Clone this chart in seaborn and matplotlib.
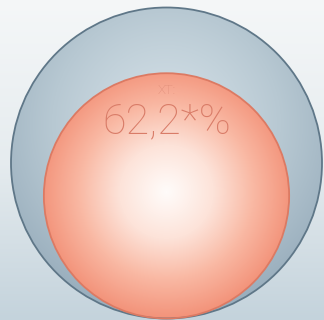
import numpy as np
import matplotlib
matplotlib.use("Agg")
import matplotlib.pyplot as plt
import seaborn as sns
from matplotlib.patches import Circle
from matplotlib.colors import LinearSegmentedColormap

# ---- data ----
groups = ["Total", "XT"]
shares = [100.0, 62.2]
group_labels = ["", "XT:"]
value_labels = ["", "62,2*%"]

sns.set_theme(style="white")
plt.rcParams["font.family"] = ["Roboto", "DejaVu Sans"]

W, H = 324, 320
fig = plt.figure(figsize=(W / 100, H / 100), dpi=100)
ax = fig.add_axes([0, 0, 1, 1])
ax.set_xlim(0, W)
ax.set_ylim(H, 0)
ax.axis("off")

# background vertical gradient
bg_cmap = LinearSegmentedColormap.from_list("bg", ["#f5f7f8", "#e6ecef", "#c4d3dc"])
yy = np.linspace(0, 1, 256).reshape(-1, 1) * np.ones((1, 4))
ax.imshow(yy, cmap=bg_cmap, extent=[0, W, H, 0], aspect="auto", zorder=0,
          interpolation="bicubic")

# geometry
cx, cy_outer, R = 166.5, 163.0, 155.5
radii = [R * np.sqrt(s / shares[0]) for s in shares]
centers = [(cx, cy_outer + (R - r)) for r in radii]

xs = np.linspace(0, W, W)
ys = np.linspace(0, H, H)
X, Y = np.meshgrid(xs, ys)

outer_cmap = LinearSegmentedColormap.from_list("outer", ["#d3dfe6", "#b7c8d2", "#98adbc"])
inner_cmap = LinearSegmentedColormap.from_list("inner", ["#fffbf9", "#fde3d9", "#f9b8a3", "#f3937a"])
cmaps = [outer_cmap, inner_cmap]
edges = ["#5f7788", "#dc7a63"]
hl_offsets = [(0, -40), (0, -4)]
powers = [1.3, 1.1]

for (ccx, ccy), r, cmap, ec, (hx, hy), p in zip(centers, radii, cmaps, edges, hl_offsets, powers):
    d = np.sqrt((X - (ccx + hx)) ** 2 + (Y - (ccy + hy)) ** 2) / (r + abs(hy))
    t = np.clip(d, 0, 1) ** p
    circ = Circle((ccx, ccy), r, facecolor="none", edgecolor=ec, lw=1.3, zorder=3)
    ax.add_patch(circ)
    im = ax.imshow(t, cmap=cmap, vmin=0, vmax=1, extent=[0, W, H, 0], aspect="auto",
                   zorder=2, interpolation="bilinear")
    im.set_clip_path(circ)

# labels
icx, icy = centers[1]
ax.text(icx, 90, group_labels[1], ha="center", va="center", fontsize=9.5,
        color="#dc8a76", fontweight="light", zorder=5)
ax.text(icx, 122, value_labels[1], ha="center", va="center", fontsize=31,
        color="#d97c68", fontweight="light", zorder=5)

fig.savefig("out.png", dpi=100)
